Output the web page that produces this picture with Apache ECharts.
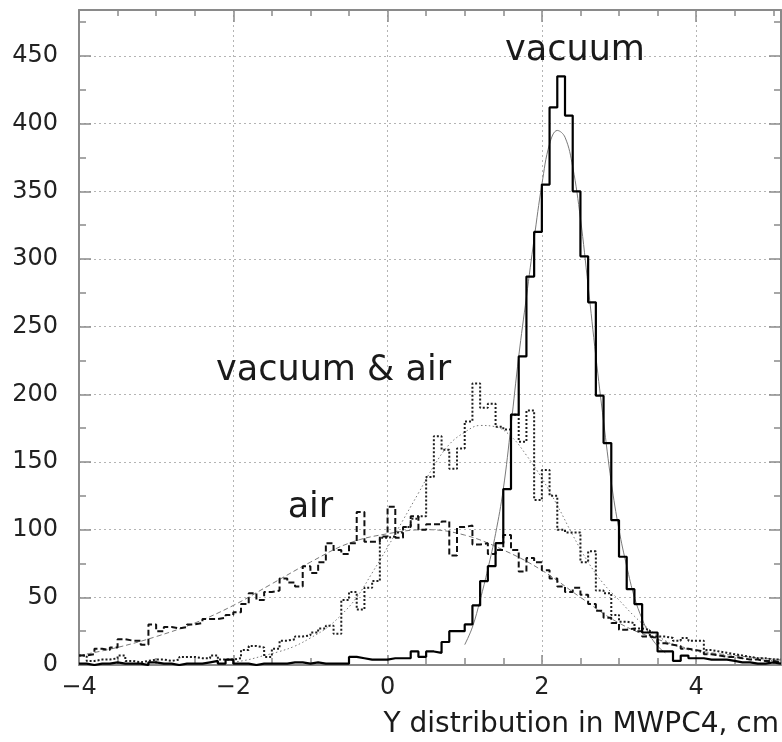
<!DOCTYPE html>
<html>
<head>
<meta charset="utf-8">
<script src="https://cdn.jsdelivr.net/npm/echarts@6/dist/echarts.min.js"></script>
<style>html,body{margin:0;padding:0;background:#fff}#c{width:782px;height:742px}</style>
</head>
<body>
<div id="c"></div>
<script>
// ---- data (histograms: 91 bins of width 0.1 starting at -4) ----
const binStart = -4;
const binWidth = 0.1;

const vacuum = [
  1,0,1,1,2,1,1,1,0,2,
  1,1,0,1,1,1,2,3,1,4,
  1,1,0,1,1,1,1,2,2,1,
  2,1,1,1,1,6,5,4,4,4,
  5,5,5,10,6,10,9,17,25,25,
  30,44,62,73,90,130,185,228,287,320,
  355,412,435,406,350,302,268,199,164,107,
  80,56,45,24,24,10,10,3,7,5,
  5,4,4,4,3,2,2,1,1,2,
  1
];
const vacuumAir = [
  7,3,4,4,5,7,3,2,3,4,
  4,3,4,6,6,5,5,7,4,4,
  5,11,14,13,6,12,18,19,21,22,
  24,27,29,23,48,54,41,57,62,94,
  95,98,102,108,110,139,169,159,145,160,
  180,208,190,193,176,174,185,165,188,122,
  144,125,100,98,98,76,84,55,53,37,
  32,31,27,26,21,21,20,18,20,18,
  18,11,10,9,8,7,6,5,5,4,
  4
];
const air = [
  7,8,12,11,13,19,18,18,15,30,
  25,28,27,28,30,31,34,34,35,37,
  39,45,53,48,54,55,64,61,58,73,
  68,76,90,85,82,90,113,91,91,95,
  117,94,102,110,100,104,104,106,81,102,
  103,89,90,82,85,96,85,69,79,76,
  70,64,58,54,57,52,45,40,35,31,
  26,27,25,21,20,16,15,14,12,11,
  10,8,7,6,6,5,4,4,3,3,
  2
];

// fitted curves
const vacFitX = [1.0,1.1,1.2,1.3,1.4,1.5,1.6,1.7,1.8,1.9,2.0,2.1,2.2,2.3,2.4,2.5,2.6,2.7,2.8,2.9,3.0,3.1,3.2,3.3,3.4,3.5,3.6];
const vacFitY = [15,28,48,71,97,130,177,228,272,315,355,385,395,390,368,330,280,228,180,135,100,73,50,34,22,14,9];

const vaFitX = [-2.0,-1.8,-1.6,-1.4,-1.2,-1.0,-0.8,-0.6,-0.4,-0.2,0,0.2,0.4,0.6,0.8,1.0,1.2,1.4,1.6,1.8,2.0,2.2,2.4,2.6,2.8,3.0,3.2,3.4,3.6,3.8,4.0,4.4,4.8,5.1];
const vaFitY = [2,4,7,10,14,20,27,37,50,68,87,107,127,147,163,172,177,176,169,155,138,118,96,76,60,48,36,26,18,13,10,6,4,3];

const airFitX = [-4,-3.5,-3,-2.5,-2,-1.5,-1,-0.5,0,0.5,1,1.5,2,2.5,3,3.5,4,4.5,5.1];
const airFitY = [7,13,21,31,44,60,76,90,97,100,96,85,70,50,31,19,11,7,4];

const xMin = -4, xMax = 5.1, xMajor = 2, xMinor = 0.5;
const yMin = 0, yMax = 484, yMajor = 50, yMinor = 25;

const labels = [
  {text: 'vacuum', x: 2.43, y: 454},
  {text: 'vacuum & air', x: -0.7, y: 217},
  {text: 'air', x: -1.0, y: 116}
];
const axisTitle = 'Y distribution in MWPC4, cm';

// ---- build ----
function histData(vals) {
  const d = vals.map((v, i) => [+(binStart + i * binWidth).toFixed(3), v]);
  d.push([+(binStart + vals.length * binWidth).toFixed(3), vals[vals.length - 1]]);
  return d;
}
function pairs(xs, ys) { return xs.map((x, i) => [x, ys[i]]); }

const FONT = 'DejaVu Sans';
const frame = '#8a8a8a';
const grid = {left: 79, right: 1, top: 10, bottom: 77};
const gridLine = {show: true, lineStyle: {color: '#b4b4b4', width: 1, type: [2, 3]}};
const fmt = v => String(v).replace('-', '\u2212');

function deco(pos, dim, interval, len, line) {
  return {
    type: 'value', position: pos, min: dim === 'x' ? xMin : yMin, max: dim === 'x' ? xMax : yMax,
    interval: interval,
    axisLine: {show: !!line, onZero: false, lineStyle: {color: frame, width: 2}},
    axisTick: {show: true, inside: true, length: len, lineStyle: {color: frame, width: 1.5}},
    axisLabel: {show: false},
    splitLine: {show: false}
  };
}

const chart = echarts.init(document.getElementById('c'), null, {renderer: 'canvas'});
const lineBase = {type: 'line', showSymbol: false, symbol: 'none', silent: true, animation: false, xAxisIndex: 0, yAxisIndex: 0};

chart.setOption({
  animation: false,
  backgroundColor: '#fff',
  grid: grid,
  xAxis: [
    {
      type: 'value', position: 'bottom', min: xMin, max: xMax, interval: xMajor,
      axisLine: {show: true, onZero: false, lineStyle: {color: frame, width: 2}},
      axisTick: {show: true, inside: true, length: 10, lineStyle: {color: frame, width: 1.5}},
      axisLabel: {show: true, margin: 11, color: '#222', fontFamily: FONT, fontSize: 24, showMaxLabel: false, formatter: fmt},
      splitLine: gridLine
    },
    deco('bottom', 'x', xMinor, 7, false),
    deco('top', 'x', xMinor, 6, true),
    deco('top', 'x', xMajor, 12, false)
  ],
  yAxis: [
    {
      type: 'value', position: 'left', min: yMin, max: yMax, interval: yMajor,
      axisLine: {show: true, onZero: false, lineStyle: {color: frame, width: 2}},
      axisTick: {show: true, inside: true, length: 12, lineStyle: {color: frame, width: 1.5}},
      axisLabel: {show: true, margin: 21, color: '#222', fontFamily: FONT, fontSize: 24, showMaxLabel: false},
      splitLine: gridLine
    },
    deco('left', 'y', yMinor, 7, false),
    deco('right', 'y', yMinor, 7, true),
    deco('right', 'y', yMajor, 12, false)
  ],
  series: [
    Object.assign({}, lineBase, {data: pairs(airFitX, airFitY), smooth: 0.4, lineStyle: {color: '#7a7a7a', width: 1, type: [5, 3]}}),
    Object.assign({}, lineBase, {data: pairs(vaFitX, vaFitY), smooth: 0.4, lineStyle: {color: '#7a7a7a', width: 1, type: [1.5, 2.5]}}),
    Object.assign({}, lineBase, {data: pairs(vacFitX, vacFitY), smooth: 0.4, lineStyle: {color: '#7a7a7a', width: 1}}),
    Object.assign({}, lineBase, {data: histData(vacuumAir), step: 'end', lineStyle: {color: '#1e1e1e', width: 2, type: [2, 2]}}),
    Object.assign({}, lineBase, {data: histData(air), step: 'end', lineStyle: {color: '#111', width: 2, type: [6, 3]}}),
    Object.assign({}, lineBase, {data: histData(vacuum), step: 'end', lineStyle: {color: '#000', width: 2.2}})
  ]
});

// text labels placed in data coordinates via the chart's own scales
const g = labels.map(l => {
  const p = chart.convertToPixel({xAxisIndex: 0, yAxisIndex: 0}, [l.x, l.y]);
  return {type: 'text', x: p[0], y: p[1], silent: true,
    style: {text: l.text, fontSize: 35, fontFamily: FONT, fill: '#1a1a1a', align: 'center', verticalAlign: 'middle'}};
});
g.push({type: 'text', x: 779, y: 725, silent: true,
  style: {text: axisTitle, fontSize: 28, fontFamily: FONT, fill: '#1a1a1a', align: 'right', verticalAlign: 'middle'}});
chart.setOption({graphic: g});
</script>
</body>
</html>
